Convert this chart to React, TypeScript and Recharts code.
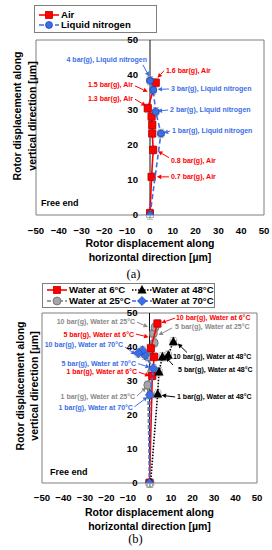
import React from 'react';
import { ScatterChart, Scatter, XAxis, YAxis, ErrorBar, ReferenceLine, ReferenceDot, ReferenceArea, Label } from 'recharts';

// ---------- shared ticks ----------
const X_TICKS = [-50, -40, -30, -20, -10, 0, 10, 20, 30, 40, 50];
const Y_TICKS = [0, 10, 20, 30, 40, 50];

// ---------- (a) Air vs Liquid nitrogen ----------
const airX = [0, 0.7, 1.4, 1.0, 1.0, 0.7, -1.0, 2.5];
const airY = [0.5, 10.9, 18.6, 23.3, 25.7, 28.1, 30.5, 37.8];
const ln2X = [0, 4.8, 2.5, 1.4, 0];
const ln2Y = [0, 23.3, 29.5, 35.7, 38.4];

// ---------- (b) Water at different temperatures ----------
const w6X = [0, 1.3, 2.2, 0.6, 3.7];
const w6Y = [0, 31.5, 37.1, 39.6, 46.9];
const w25X = [0, -0.8, 1.0, -0.6, 2.2, 1.8, 2.6];
const w25Y = [0, 28.8, 32.7, 37.1, 41.2, 44.0, 45.8];
const w48X = [0.5, 3.8, 4.4, 6.0, 8.7, 11.1];
const w48Y = [0, 26.2, 32.7, 37.1, 37.6, 41.6];
const w70X = [0, 0.2, 1.8, -2.1, -3.3, -5.2];
const w70Y = [0, 25.9, 33.7, 37.6, 39.0, 38.2];

const ERR_X = 1.5;
const ERR_Y = 1.2;

const toPoints = (xs: number[], ys: number[]) => xs.map((x, i) => ({ x, y: ys[i], ex: ERR_X, ey: ERR_Y }));

// ---------- colours ----------
const RED = '#ff0000';
const BLUE = '#3a6ee8';
const BLUE_T = '#3b6fe8';
const GRAY = '#a6a6a6';
const GRAY_T = '#8a8a8a';
const FONT = '"Liberation Sans", Arial, sans-serif';

// ---------- marker shapes ----------
const square = (fill: string, stroke: string) => (p: any) => (
  <rect x={p.cx - 3.6} y={p.cy - 3.6} width={7.2} height={7.2} fill={fill} stroke={stroke} strokeWidth={0.7} />
);
const circle = (fill: string, stroke: string, r = 3.6) => (p: any) => (
  <circle cx={p.cx} cy={p.cy} r={r} fill={fill} stroke={stroke} strokeWidth={0.7} />
);
const triangle = (fill: string) => (p: any) => (
  <polygon points={`${p.cx},${p.cy - 5} ${p.cx - 4.6},${p.cy + 3.6} ${p.cx + 4.6},${p.cy + 3.6}`} fill={fill} />
);
const diamond = (fill: string, stroke: string) => (p: any) => (
  <polygon points={`${p.cx},${p.cy - 4.6} ${p.cx + 4.6},${p.cy} ${p.cx},${p.cy + 4.6} ${p.cx - 4.6},${p.cy}`} fill={fill} stroke={stroke} strokeWidth={0.6} />
);

// ---------- series styles ----------
const seriesA = [
  { name: 'Air', data: toPoints(airX, airY), line: { stroke: RED, strokeWidth: 1.6 }, shape: square(RED, '#b00000') },
  { name: 'Liquid nitrogen', data: toPoints(ln2X, ln2Y), line: { stroke: BLUE, strokeWidth: 1.6, strokeDasharray: '5 3' }, shape: circle(BLUE, '#1f3f99', 3.5) },
];
const seriesB = [
  { name: 'Water at 25°C', data: toPoints(w25X, w25Y), line: { stroke: '#7f7f7f', strokeWidth: 1.6, strokeDasharray: '4 2' }, shape: circle(GRAY, '#606060', 4) },
  { name: 'Water at 6°C', data: toPoints(w6X, w6Y), line: { stroke: RED, strokeWidth: 1.6 }, shape: square(RED, '#b00000') },
  { name: 'Water at 48°C', data: toPoints(w48X, w48Y), line: { stroke: '#000', strokeWidth: 1.6, strokeDasharray: '1.5 1.5' }, shape: triangle('#000') },
  { name: 'Water at 70°C', data: toPoints(w70X, w70Y), line: { stroke: BLUE, strokeWidth: 1.6, strokeDasharray: '4 2' }, shape: diamond(BLUE, '#1d3f99') },
];

// ---------- annotations ----------
type Ann = { text: string; color: string; anchor: 'start' | 'end'; x: number; y: number; from?: [number, number]; to?: [number, number]; size?: number };

const annA: Ann[] = [
  { text: '4 bar(g), Liquid nitrogen', color: BLUE_T, anchor: 'end', x: -1.3, y: 44.3, from: [-3.1, 42.9], to: [-0.4, 39.6] },
  { text: '1.6 bar(g), Air', color: RED, anchor: 'start', x: 7.0, y: 41.4, from: [6.1, 41.2], to: [3.3, 39.2] },
  { text: '1.5 bar(g), Air', color: RED, anchor: 'end', x: -7.5, y: 37.4, from: [-6.6, 36.9], to: [-1.0, 35.2] },
  { text: '3 bar(g), Liquid nitrogen', color: BLUE_T, anchor: 'start', x: 9.2, y: 36.0, from: [8.3, 36.0], to: [3.3, 35.9] },
  { text: '1.3 bar(g), Air', color: RED, anchor: 'end', x: -7.5, y: 33.4, from: [-6.6, 33.1], to: [-1.8, 31.2] },
  { text: '2 bar(g), Liquid nitrogen', color: BLUE_T, anchor: 'start', x: 8.8, y: 30.0, from: [7.9, 30.0], to: [3.3, 29.7] },
  { text: '1 bar(g), Liquid nitrogen', color: BLUE_T, anchor: 'start', x: 9.6, y: 24.1, from: [8.8, 24.0], to: [6.0, 23.4] },
  { text: '0.8 bar(g), Air', color: RED, anchor: 'start', x: 9.2, y: 15.7, from: [8.3, 16.4], to: [3.5, 18.2] },
  { text: '0.7 bar(g), Air', color: RED, anchor: 'start', x: 9.2, y: 10.9, from: [8.3, 10.9], to: [3.0, 10.9] },
  { text: 'Free end', color: '#000', anchor: 'start', x: -47.8, y: 3.4, size: 9 },
];

const annB: Ann[] = [
  { text: '10 bar(g), Water at 25°C', color: GRAY_T, anchor: 'end', x: -6.7, y: 47.5, from: [-5.8, 47.3], to: [-0.7, 45.9] },
  { text: '5 bar(g), Water at 6°C', color: RED, anchor: 'end', x: -7.2, y: 43.8, from: [-6.3, 43.8], to: [-0.4, 42.9] },
  { text: '10 bar(g), Water at 70°C', color: BLUE_T, anchor: 'end', x: -12.3, y: 40.7, from: [-11.4, 40.0], to: [-6.5, 37.8] },
  { text: '5 bar(g), Water at 70°C', color: BLUE_T, anchor: 'end', x: -6.3, y: 35.2, from: [-5.3, 35.1], to: [0.2, 34.0] },
  { text: '1 bar(g), Water at 6°C', color: RED, anchor: 'end', x: -5.8, y: 32.7, from: [-4.9, 32.6], to: [0, 31.5] },
  { text: '1 bar(g), Water at 25°C', color: GRAY_T, anchor: 'end', x: -6.7, y: 25.3, from: [-5.8, 25.6], to: [-1.6, 28.1] },
  { text: '1 bar(g), Water at 70°C', color: BLUE_T, anchor: 'end', x: -7.7, y: 22.1, from: [-7.0, 22.4], to: [-0.9, 25.3] },
  { text: '10 bar(g), Water at 6°C', color: RED, anchor: 'start', x: 12.3, y: 48.7, from: [11.9, 48.5], to: [5.5, 47.1] },
  { text: '5 bar(g), Water at 25°C', color: GRAY_T, anchor: 'start', x: 11.9, y: 45.9, from: [10.5, 45.6], to: [4.2, 43.5] },
  { text: '10 bar(g), Water at 48°C', color: '#000', anchor: 'start', x: 10.9, y: 37.1, from: [17.4, 38.4], to: [13.2, 41.0] },
  { text: '5 bar(g), Water at 48°C', color: '#000', anchor: 'start', x: 13.3, y: 33.5, from: [10.9, 34.7], to: [7.7, 37.0] },
  { text: '1 bar(g), Water at 48°C', color: '#000', anchor: 'start', x: 12.8, y: 25.3, from: [11.9, 25.3], to: [5.6, 25.8] },
  { text: 'Free end', color: '#000', anchor: 'start', x: -46.3, y: 3.2, size: 9 },
];

const arrowShape = (color: string) => (p: any) => {
  const { x1, y1, x2, y2 } = p;
  if ([x1, y1, x2, y2].some((v) => typeof v !== 'number' || isNaN(v))) return <g />;
  const ang = Math.atan2(y2 - y1, x2 - x1);
  const c = Math.cos(ang);
  const s = Math.sin(ang);
  const L = 4.5;
  const W = 2.3;
  const bx = x2 - L * c;
  const by = y2 - L * s;
  const pts = `${x2},${y2} ${bx - W * s},${by + W * c} ${bx + W * s},${by - W * c}`;
  return (
    <g>
      <line x1={x1} y1={y1} x2={bx} y2={by} stroke={color} strokeWidth={1} />
      <polygon points={pts} fill={color} />
    </g>
  );
};

const textShape = (a: Ann) => (p: any) => (
  <text x={p.cx} y={p.cy} dy="0.35em" textAnchor={a.anchor} fill={a.color} fontSize={a.size || 7} fontWeight={700} fontFamily={FONT}>
    {a.text}
  </text>
);

const renderAnnotations = (list: Ann[], prefix: string) => {
  const out: any[] = [];
  list.forEach((a, i) => {
    if (a.from && a.to) {
      out.push(
        <ReferenceLine
          key={`${prefix}l${i}`}
          segment={[{ x: a.from[0], y: a.from[1] }, { x: a.to[0], y: a.to[1] }]}
          stroke={a.color}
          ifOverflow="visible"
          shape={arrowShape(a.color)}
        />
      );
    }
    out.push(<ReferenceDot key={`${prefix}t${i}`} x={a.x} y={a.y} r={0} ifOverflow="visible" shape={textShape(a)} />);
  });
  return out;
};

const yTickShape = (t: number, gap: number) => (p: any) => (
  <text x={p.cx - gap} y={p.cy} dy="0.35em" textAnchor="end" fontSize={9.6} fontWeight={700} fill="#000" fontFamily={FONT}>
    {t}
  </text>
);

const fmt = (v: number) => (v < 0 ? `−${Math.abs(v)}` : `${v}`);

const xTitle = (d1: number, d2: number) => (props: any) => {
  const vb = props.viewBox || { x: 0, y: 0, width: 0 };
  const cx = vb.x + vb.width / 2;
  return (
    <text textAnchor="middle" fontSize={10.5} fontWeight={700} fill="#000" fontFamily={FONT}>
      <tspan x={cx} y={vb.y + d1}>Rotor displacement along</tspan>
      <tspan x={cx} y={vb.y + d2}>horizontal direction [µm]</tspan>
    </text>
  );
};

const yTitle = (x1: number, x2: number, shift: number) => (props: any) => {
  const vb = props.viewBox || { x: 0, y: 0, height: 0 };
  const cy = vb.y + vb.height / 2 + shift;
  return (
    <g fontSize={10.5} fontWeight={700} fill="#000" fontFamily={FONT}>
      <text x={x1} y={cy} transform={`rotate(-90 ${x1} ${cy})`} textAnchor="middle" dominantBaseline="central">
        Rotor displacement along
      </text>
      <text x={x2} y={cy} transform={`rotate(-90 ${x2} ${cy})`} textAnchor="middle" dominantBaseline="central">
        vertical direction [µm]
      </text>
    </g>
  );
};

type PanelProps = {
  height: number;
  margin: any;
  yWidth: number;
  xHeight: number;
  tickMargin: number;
  series: any[];
  ann: Ann[];
  prefix: string;
  xt: [number, number];
  yt: [number, number, number];
  yGap: number;
};

const Panel = (cfg: PanelProps) => (
  <ScatterChart width={272} height={cfg.height} margin={cfg.margin} style={{ overflow: 'visible' }}>
    <XAxis
      type="number"
      dataKey="x"
      domain={[-50, 50]}
      ticks={X_TICKS}
      interval={0}
      tickFormatter={fmt}
      tick={{ fontSize: 9.6, fontWeight: 700, fill: '#000', fontFamily: FONT }}
      tickLine={false}
      axisLine={false}
      tickSize={6}
      tickMargin={cfg.tickMargin}
      height={cfg.xHeight}
      allowDataOverflow
    >
      <Label content={xTitle(cfg.xt[0], cfg.xt[1])} />
    </XAxis>
    <YAxis
      type="number"
      dataKey="y"
      domain={[0, 50]}
      ticks={Y_TICKS}
      width={cfg.yWidth}
      tick={false}
      tickLine={false}
      axisLine={false}
      allowDataOverflow
    >
      <Label content={yTitle(cfg.yt[0], cfg.yt[1], cfg.yt[2])} />
    </YAxis>
    <ReferenceArea x1={-50} x2={50} y1={0} y2={50} fill="none" fillOpacity={0} stroke="#7f7f7f" strokeWidth={1} ifOverflow="visible" />
    <ReferenceLine x={0} stroke="#111" strokeWidth={1} />
    {Y_TICKS.map((t) => (
      <ReferenceDot key={`${cfg.prefix}yt${t}`} x={0} y={t} r={0} ifOverflow="visible" shape={yTickShape(t, cfg.yGap)} />
    ))}
    {cfg.series.map((s) => (
      <Scatter
        key={s.name}
        name={s.name}
        data={s.data}
        line={s.line}
        lineType="joint"
        shape={s.shape}
        fill={s.line.stroke}
        isAnimationActive={false}
      >
        <ErrorBar dataKey="ex" direction="x" width={3} stroke="#9a9a9a" strokeWidth={0.8} />
        <ErrorBar dataKey="ey" direction="y" width={3} stroke="#9a9a9a" strokeWidth={0.8} />
      </Scatter>
    ))}
    {renderAnnotations(cfg.ann, cfg.prefix)}
  </ScatterChart>
);

// ---------- legends (HTML) ----------
const LegendSymbol = ({ s }: { s: any }) => (
  <svg width={22} height={12} style={{ position: 'absolute', left: 0, top: 0, overflow: 'visible' }}>
    <line x1={1} y1={6} x2={21} y2={6} stroke={s.line.stroke} strokeWidth={1.6} strokeDasharray={s.line.strokeDasharray} />
    {s.shape({ cx: 11, cy: 6 })}
  </svg>
);

const LegendItem = ({ s, left, top, textLeft }: any) => (
  <div style={{ position: 'absolute', left, top, height: 12 }}>
    <LegendSymbol s={s} />
    <span
      style={{
        position: 'absolute',
        left: textLeft,
        top: -1,
        fontSize: 9.6,
        lineHeight: '14px',
        fontWeight: 700,
        whiteSpace: 'nowrap',
        color: '#000',
        fontFamily: FONT,
      }}
    >
      {s.name}
    </span>
  </div>
);

const legendBox: React.CSSProperties = {
  position: 'absolute',
  border: '1px solid #7f7f7f',
  boxSizing: 'border-box',
  background: '#fff',
};

export default function App() {
  const sB = (n: string) => seriesB.find((s) => s.name === n);
  return (
    <div style={{ position: 'absolute', left: 0, top: 0, width: 272, height: 550, background: '#fff', fontFamily: FONT, overflow: 'hidden' }}>
      <div style={{ position: 'absolute', left: 0, top: 0 }}>
        <Panel
          height={270}
          margin={{ top: 40, right: 8, bottom: 0, left: 0 }}
          yWidth={36}
          xHeight={55}
          tickMargin={6}
          series={seriesA}
          ann={annA}
          prefix="a"
          xt={[31.5, 46]}
          yt={[17, 31.5, -11.5]}
          yGap={12}
        />
      </div>
      <div style={{ ...legendBox, left: 34, top: 5, width: 123, height: 28 }}>
        <LegendItem s={seriesA[0]} left={3} top={3} textLeft={23} />
        <LegendItem s={seriesA[1]} left={3} top={13.3} textLeft={23} />
      </div>
      <div style={{ position: 'absolute', left: 0, top: 266, width: 267, textAlign: 'center', fontFamily: '"Liberation Serif", "Times New Roman", serif', fontSize: 12.5, lineHeight: '16px', color: '#000' }}>
        (a)
      </div>

      <div style={{ position: 'absolute', left: 0, top: 280 }}>
        <Panel
          height={265}
          margin={{ top: 33, right: 15, bottom: 0, left: 0 }}
          yWidth={42}
          xHeight={62}
          tickMargin={5}
          series={seriesB}
          ann={annB}
          prefix="b"
          xt={[32.5, 47]}
          yt={[19.5, 34, -12]}
          yGap={12}
        />
      </div>
      <div style={{ ...legendBox, left: 42, top: 283, width: 173, height: 25 }}>
        <LegendItem s={sB('Water at 6°C')} left={3} top={0} textLeft={23} />
        <LegendItem s={sB('Water at 25°C')} left={3} top={11} textLeft={23} />
        <LegendItem s={sB('Water at 48°C')} left={88} top={0} textLeft={21} />
        <LegendItem s={sB('Water at 70°C')} left={88} top={11} textLeft={21} />
      </div>
      <div style={{ position: 'absolute', left: 0, top: 531, width: 271, textAlign: 'center', fontFamily: '"Liberation Serif", "Times New Roman", serif', fontSize: 12.5, lineHeight: '16px', color: '#000' }}>
        (b)
      </div>
    </div>
  );
}
